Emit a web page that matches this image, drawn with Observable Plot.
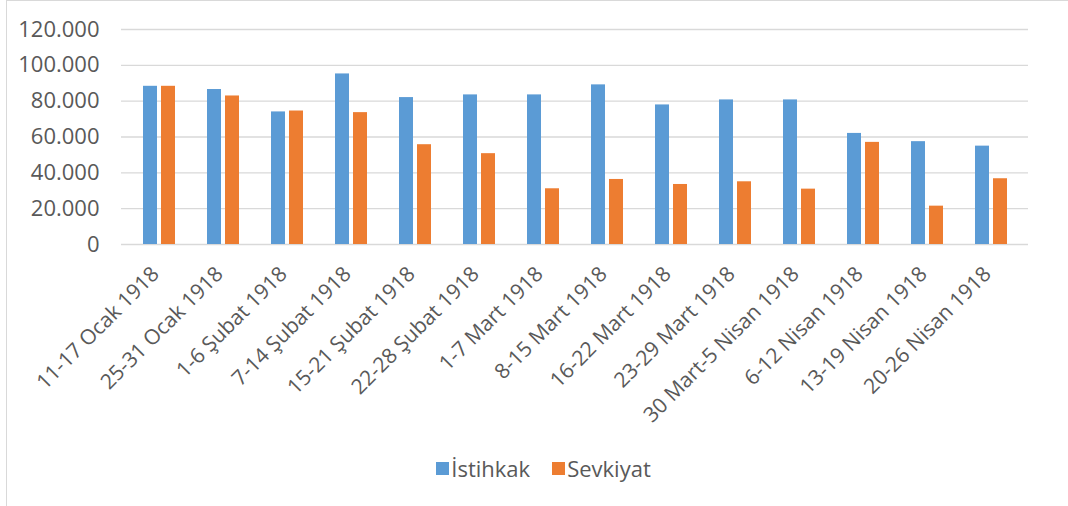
<!DOCTYPE html>
<html>
<head>
<meta charset="utf-8">
<script src="https://cdn.jsdelivr.net/npm/d3@7"></script>
<script src="https://cdn.jsdelivr.net/npm/@observablehq/plot@0.6"></script>
<style>
  html, body { margin: 0; padding: 0; background: #fff; }
  #wrap { position: relative; width: 1068px; height: 506px; overflow: hidden; font-family: "Open Sans", sans-serif; }
  #frame { position: absolute; left: 6px; top: 0px; width: 1100px; height: 600px; border-left: 1px solid #d9d9d9; border-top: 1px solid #d9d9d9; box-sizing: border-box; }
  #chart { position: absolute; left: 0; top: 0; }
  #legend { position: absolute; top: 453px; left: 0; width: 1087px; display: flex; justify-content: center; gap: 22px; font-size: 22px; color: #595959; }
  .item { display: flex; align-items: center; gap: 2px; }
  .sw { width: 13px; height: 13px; display: inline-block; }
</style>
</head>
<body>
<div id="wrap">
  <div id="frame"></div>
  <div id="chart"></div>
  <div id="legend"></div>
</div>
<script>
const categories = ["11-17 Ocak 1918", "25-31 Ocak 1918", "1-6 Şubat 1918", "7-14 Şubat 1918", "15-21 Şubat 1918", "22-28 Şubat 1918", "1-7 Mart 1918", "8-15 Mart 1918", "16-22 Mart 1918", "23-29 Mart 1918", "30 Mart-5 Nisan 1918", "6-12 Nisan 1918", "13-19 Nisan 1918", "20-26 Nisan 1918"];
const seriesNames = ["İstihkak", "Sevkiyat"];
const istihkak = [88300, 86500, 74000, 95200, 82000, 83500, 83500, 89100, 77900, 80700, 80700, 62000, 57400, 54900];
const sevkiyat = [88300, 82900, 74500, 73600, 55700, 50700, 31100, 36300, 33500, 35000, 30900, 57000, 21400, 36700];
const yTicks = [0, 20000, 40000, 60000, 80000, 100000, 120000];
const colors = ["#5B9BD5", "#ED7D31"];

const rows = [];
categories.forEach((c, i) => {
  rows.push({period: c, series: seriesNames[0], value: istihkak[i]});
  rows.push({period: c, series: seriesNames[1], value: sevkiyat[i]});
});

const trFormat = d3.formatLocale({decimal: ",", thousands: ".", grouping: [3], currency: ["", ""]}).format(",");

const chart = Plot.plot({
  width: 1068,
  height: 440,
  marginLeft: 121,
  marginRight: 40,
  marginTop: 29,
  marginBottom: 196,
  style: {fontFamily: "Open Sans, sans-serif", fontSize: "20px", color: "#595959", background: "transparent"},
  x: {domain: categories, paddingInner: 0.784, paddingOuter: 0.392, label: null},
  y: {domain: [0, 120000], label: null},
  color: {domain: seriesNames, range: colors},
  marks: [
    Plot.ruleY(yTicks, {stroke: "#d9d9d9", strokeWidth: 1.3}),
    Plot.axisY({ticks: yTicks, tickSize: 0, tickPadding: 22, tickFormat: trFormat, label: null, fill: "#595959", fontSize: 22}),
    Plot.barY(rows.filter(d => d.series === seriesNames[0]), {x: "period", y: "value", fill: "series", dx: -9}),
    Plot.barY(rows.filter(d => d.series === seriesNames[1]), {x: "period", y: "value", fill: "series", dx: 9}),
    Plot.axisX({tickRotate: -45, tickSize: 0, tickPadding: 26, dx: -4, label: null, fill: "#595959", fontSize: 21})
  ]
});
document.getElementById("chart").appendChild(chart);

const legend = document.getElementById("legend");
seriesNames.forEach((s, i) => {
  const item = document.createElement("div");
  item.className = "item";
  const sw = document.createElement("span");
  sw.className = "sw";
  sw.style.background = colors[i];
  const t = document.createElement("span");
  t.textContent = s;
  item.appendChild(sw);
  item.appendChild(t);
  legend.appendChild(item);
});
</script>
</body>
</html>
